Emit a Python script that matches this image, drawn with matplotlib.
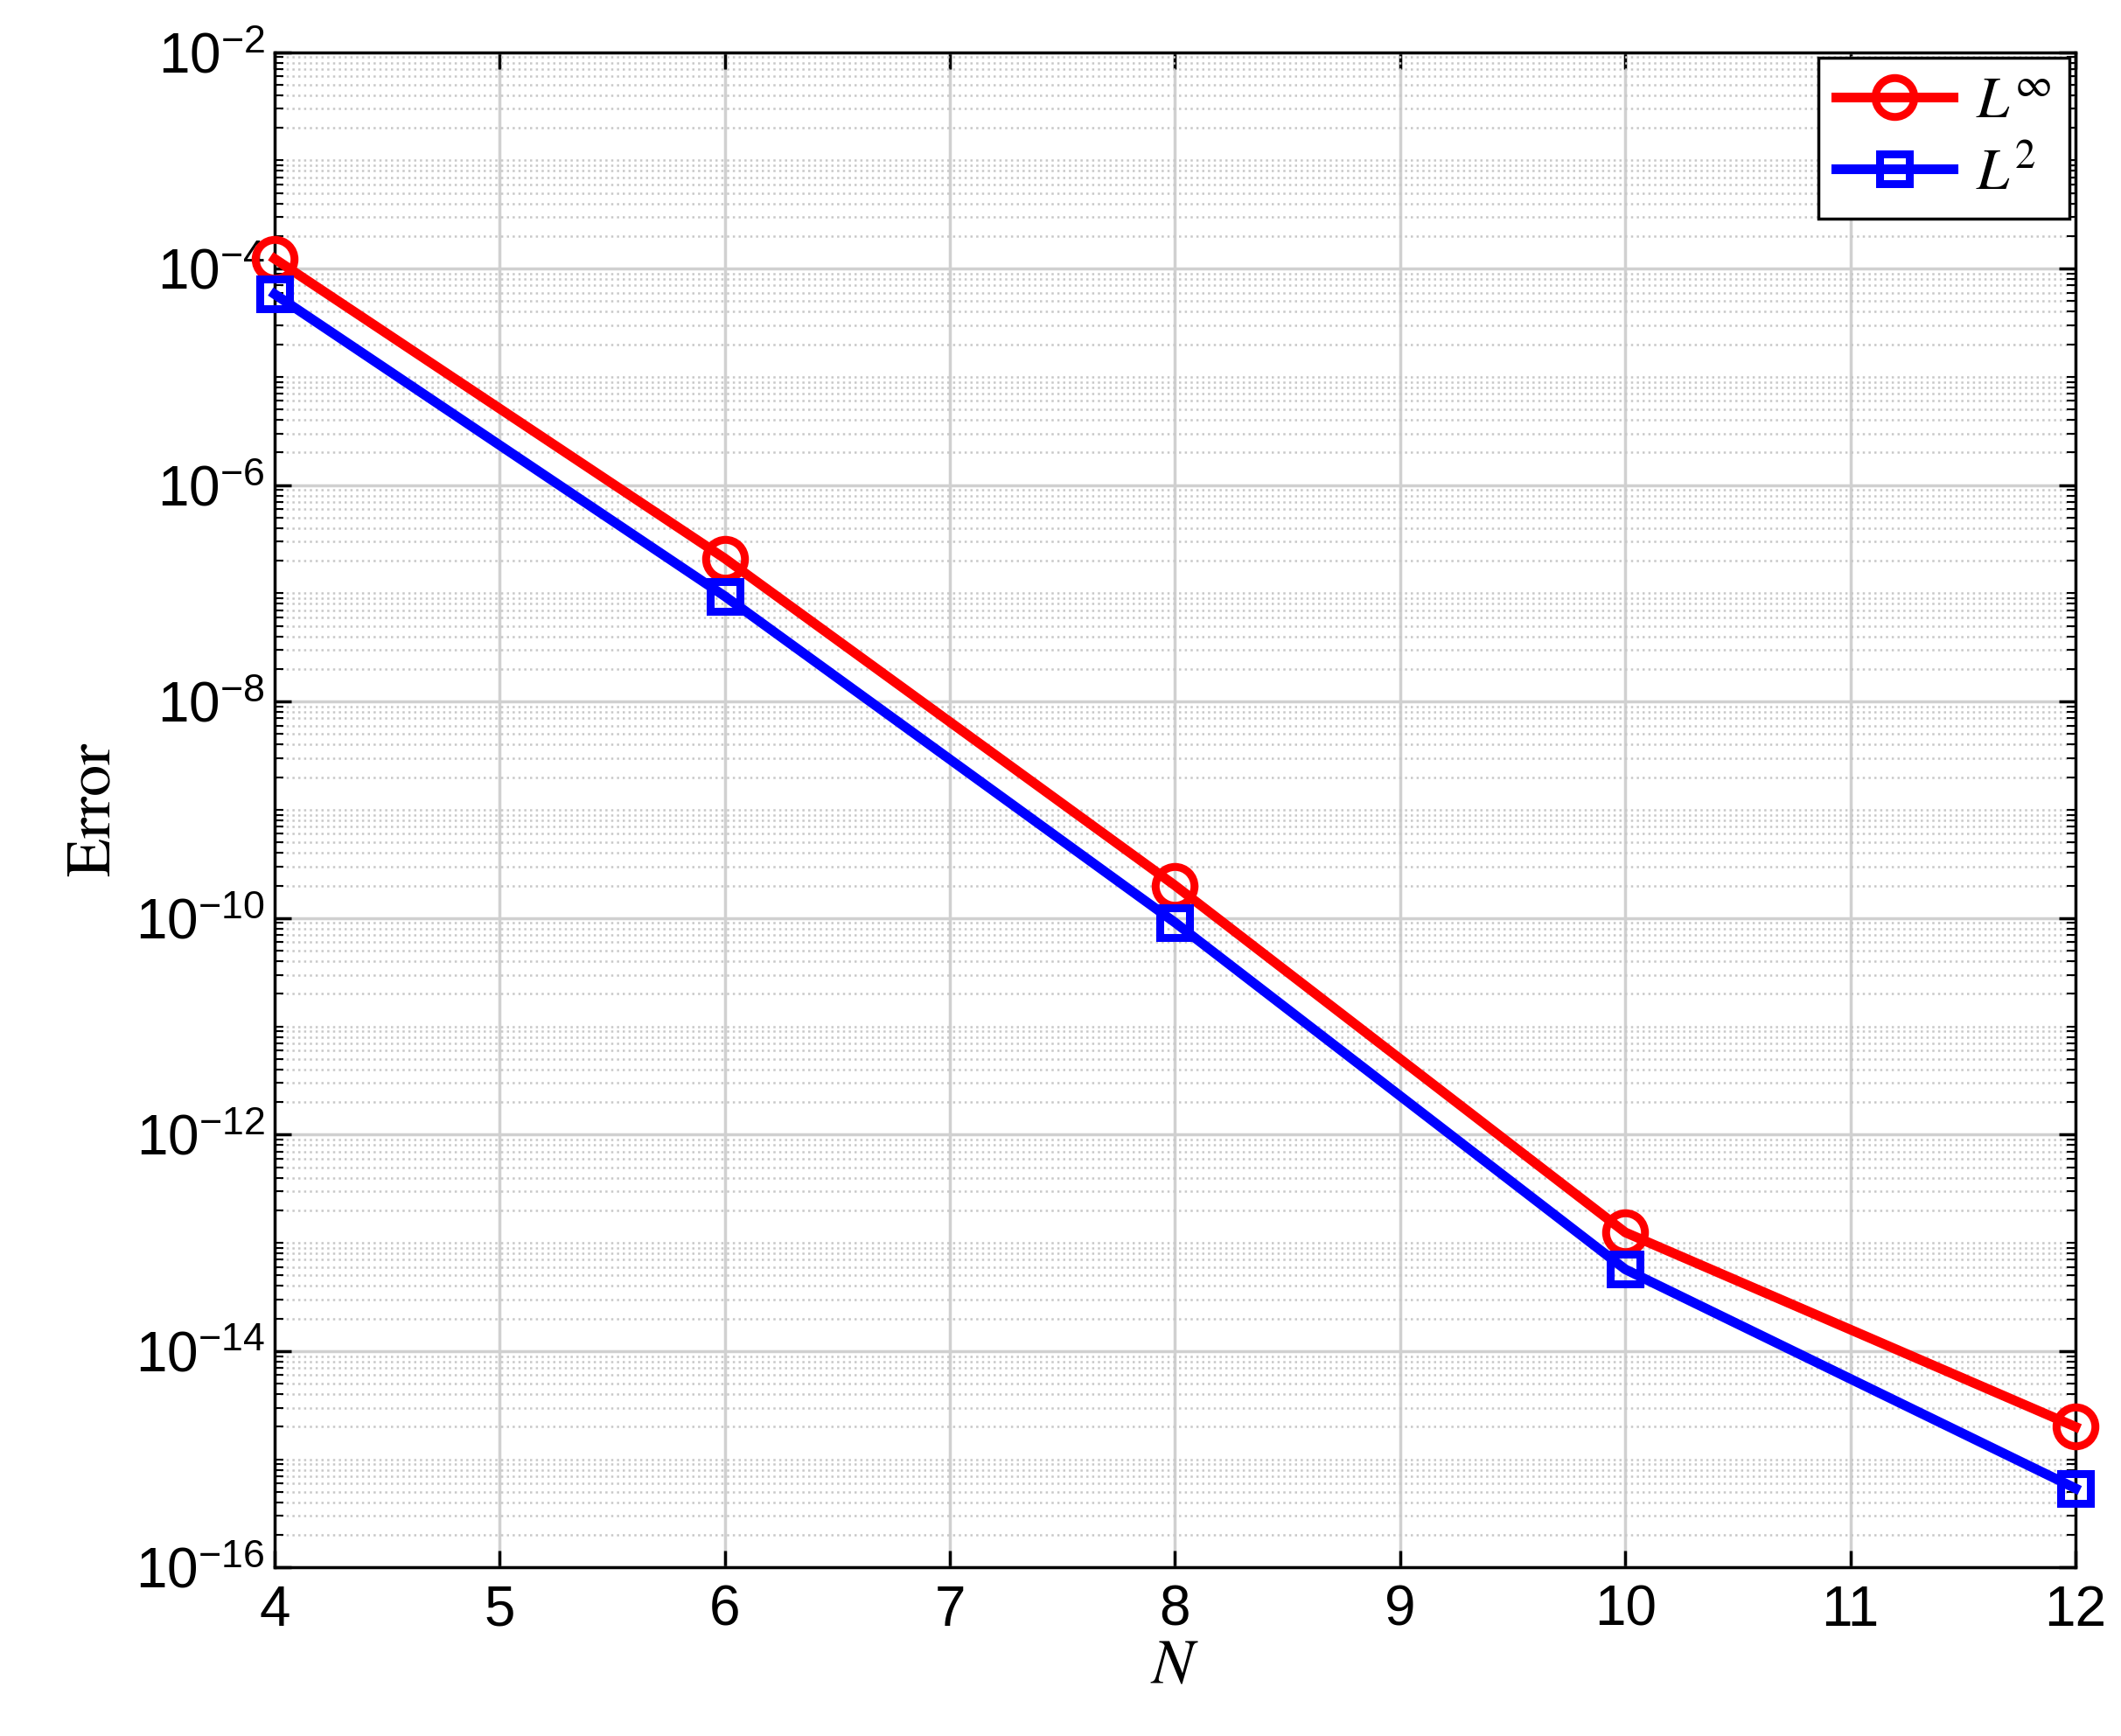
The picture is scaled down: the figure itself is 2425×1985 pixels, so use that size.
import matplotlib
matplotlib.use("Agg")
import matplotlib.pyplot as plt
from matplotlib.ticker import LogLocator, NullFormatter, FuncFormatter
import numpy as np

N = [4, 6, 8, 10, 12]
err_inf = [1.23e-4, 2.1e-7, 2.0e-10, 1.25e-13, 2.0e-15]
err_l2 = [5.8e-5, 9.4e-8, 9.1e-11, 5.7e-14, 5.4e-16]

plt.rcParams['font.family'] = ['Liberation Sans', 'DejaVu Sans']
plt.rcParams['mathtext.fontset'] = 'stix'

fig = plt.figure(figsize=(24.25, 19.85), dpi=100)
ax = fig.add_axes([0.1295, 0.097, 0.849, 0.873])
ax.semilogy(N, err_inf, '-o', color='red', lw=8, ms=32, mfc='none', mew=6.5,
            label=r'$L^{\infty}$', clip_on=False, zorder=5)
ax.semilogy(N, err_l2, '-s', color='blue', lw=8, ms=24, mfc='none', mew=6.5,
            label=r'$L^{2}$', clip_on=False, zorder=5)
ax.set_xlim(4, 12)
ax.set_ylim(1e-16, 1e-2)
ax.set_xticks(range(4, 13))
ax.set_yticks([10.0**k for k in range(-16, -1, 2)])
ax.yaxis.set_major_formatter(FuncFormatter(
    lambda v, p: r'$\mathregular{10^{%d}}$' % int(round(np.log10(v)))))
ax.yaxis.set_minor_locator(LogLocator(base=10, subs=range(1, 10), numticks=100))
ax.yaxis.set_minor_formatter(NullFormatter())
ax.grid(True, which='major', color='#d0d0d0', lw=2.5)
ax.grid(True, which='minor', axis='y', color='#c8c8c8', lw=1.8, ls=':')
ax.tick_params(axis='both', which='major', labelsize=46, direction='in', length=14,
               width=2.5, top=True, right=True)
ax.tick_params(axis='x', pad=14)
ax.tick_params(axis='y', pad=8)
ax.tick_params(axis='y', which='minor', direction='in', length=7, width=1.5, right=True)
for s in ax.spines.values():
    s.set_linewidth(2.5)
ax.set_xlabel(r'$N$', fontsize=52, labelpad=0)
ax.set_ylabel(r'$\mathrm{Error}$', fontsize=52, labelpad=10)
leg = ax.legend(loc='upper right', fontsize=48, fancybox=False, edgecolor='black',
                framealpha=1, handlelength=2.0, borderaxespad=0.1, borderpad=0.3,
                labelspacing=0.3, handletextpad=0.4)
leg.get_frame().set_linewidth(2.5)
fig.savefig('out.png', dpi=100)
